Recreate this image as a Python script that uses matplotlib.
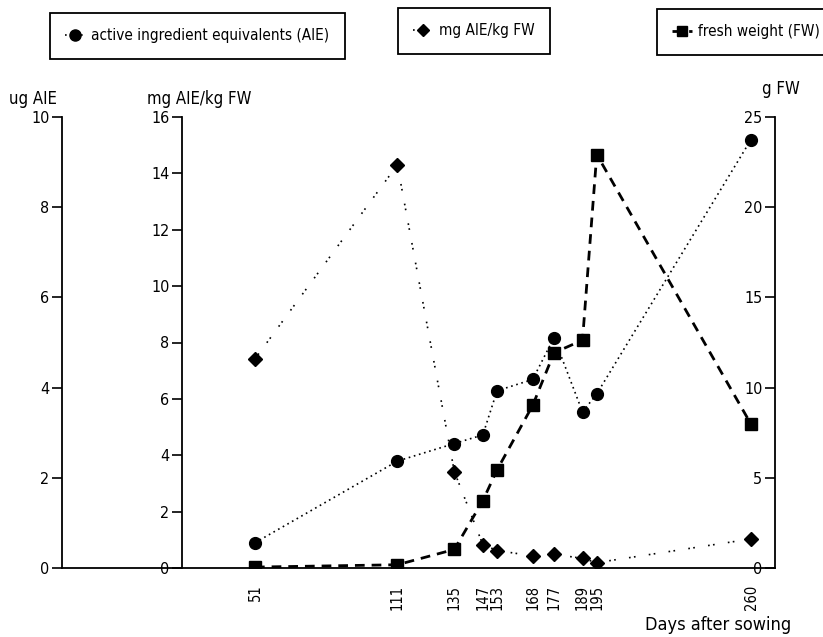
import matplotlib
matplotlib.use("Agg")
import matplotlib.pyplot as plt
from matplotlib.lines import Line2D

plt.rcParams["font.family"] = ["DejaVu Sans"]
plt.rcParams["font.stretch"] = "condensed"

# values
days = [51, 111, 135, 147, 153, 168, 177, 189, 195, 260]
aie_ug = [0.56, 2.37, 2.76, 2.95, 3.93, 4.18, 5.11, 3.46, 3.86, 9.50]
aie_mg_per_kg = [7.42, 14.30, 3.42, 0.83, 0.62, 0.43, 0.49, 0.34, 0.19, 1.03]
fresh_weight_g = [0.05, 0.18, 1.03, 3.73, 5.44, 9.01, 11.93, 12.63, 22.92, 7.97]

ug_ticks = [0, 2, 4, 6, 8, 10]
mg_ticks = [0, 2, 4, 6, 8, 10, 12, 14, 16]
fw_ticks = [0, 5, 10, 15, 20, 25]

W, H = 823, 637
fig = plt.figure(figsize=(W / 100, H / 100), dpi=100)


def fx(px):
    return px / W


def fy(py):
    return 1 - py / H


left_px, right_px, bottom_px, top_px = 62, 775, 568, 117
ax1 = fig.add_axes([fx(left_px), fy(bottom_px), fx(right_px - left_px), (bottom_px - top_px) / H])
xmin, xmax = -30.3, 270.1

tick_kw = dict(length=7, width=1.2, labelsize=11.5, pad=2)

# ug AIE axis (far left)
ax1.plot(days, aie_ug, color="black", linestyle=(0, (1, 2.2)), linewidth=1.2,
         marker="o", markersize=8.5, zorder=3)
ax1.set_xlim(xmin, xmax)
ax1.set_ylim(0, 10)
ax1.set_yticks(ug_ticks)
ax1.tick_params(axis="y", **tick_kw)
ax1.set_xticks(days)
ax1.set_xticklabels([str(d) for d in days], rotation=90, fontsize=10.5)
ax1.tick_params(axis="x", length=0, pad=12)
for s in ("top", "right"):
    ax1.spines[s].set_visible(False)
for s in ("left", "bottom"):
    ax1.spines[s].set_linewidth(1.3)

# mg AIE/kg FW axis (second from left)
ax2 = ax1.twinx()
ax2.plot(days, aie_mg_per_kg, color="black", linestyle=(0, (1, 2, 1, 8)), linewidth=1.2,
         marker="D", markersize=7, zorder=3)
ax2.set_xlim(xmin, xmax)
ax2.set_ylim(0, 16)
ax2.yaxis.tick_left()
ax2.set_yticks(mg_ticks)
ax2.tick_params(axis="y", **tick_kw)
ax2.spines["left"].set_position(("data", 20.2))
ax2.spines["left"].set_linewidth(1.3)
for s in ("top", "right", "bottom"):
    ax2.spines[s].set_visible(False)

# g FW axis (right), ticks and labels drawn on its inner side
ax3 = ax1.twinx()
ax3.plot(days, fresh_weight_g, color="black", linestyle=(0, (3.5, 2.5)), linewidth=2.0,
         marker="s", markersize=8, zorder=3)
ax3.set_xlim(xmin, xmax)
ax3.set_ylim(0, 25)
ax3.yaxis.tick_left()
ax3.set_yticks(fw_ticks)
ax3.tick_params(axis="y", **tick_kw)
ax3.spines["left"].set_position(("axes", 1.0))
ax3.spines["left"].set_linewidth(1.3)
for s in ("top", "right", "bottom"):
    ax3.spines[s].set_visible(False)

# axis titles
fig.text(fx(9), fy(104), "ug AIE", fontsize=12, va="baseline", ha="left")
fig.text(fx(147), fy(104), "mg AIE/kg FW", fontsize=12, va="baseline", ha="left")
fig.text(fx(762), fy(94), "g FW", fontsize=12, va="baseline", ha="left")
fig.text(fx(645), fy(630), "Days after sowing", fontsize=13, va="baseline", ha="left")

# three separate legend boxes
h1 = Line2D([], [], color="black", linestyle=(0, (1, 2.2)), linewidth=1.2, marker="o", markersize=8)
h2 = Line2D([], [], color="black", linestyle=(0, (1, 2, 1, 8)), linewidth=1.2, marker="D", markersize=6.5)
h3 = Line2D([], [], color="black", linestyle=(0, (3.5, 2.5)), linewidth=2.0, marker="s", markersize=7.5)

leg_kw = dict(loc="upper left", frameon=True, fancybox=False, edgecolor="black",
              framealpha=1, borderpad=1.0, handlelength=1.3, handletextpad=0.4,
              borderaxespad=0, fontsize=11, numpoints=1)
for handle, label, (px, py) in [
    (h1, "active ingredient equivalents (AIE)", (50, 13)),
    (h2, "mg AIE/kg FW", (398, 8)),
    (h3, "fresh weight (FW)", (657, 9)),
]:
    leg = fig.legend(handles=[handle], labels=[label], bbox_to_anchor=(fx(px), fy(py)), **leg_kw)
    leg.get_frame().set_linewidth(1.3)

fig.savefig("out.png", dpi=100)
plt.close(fig)
